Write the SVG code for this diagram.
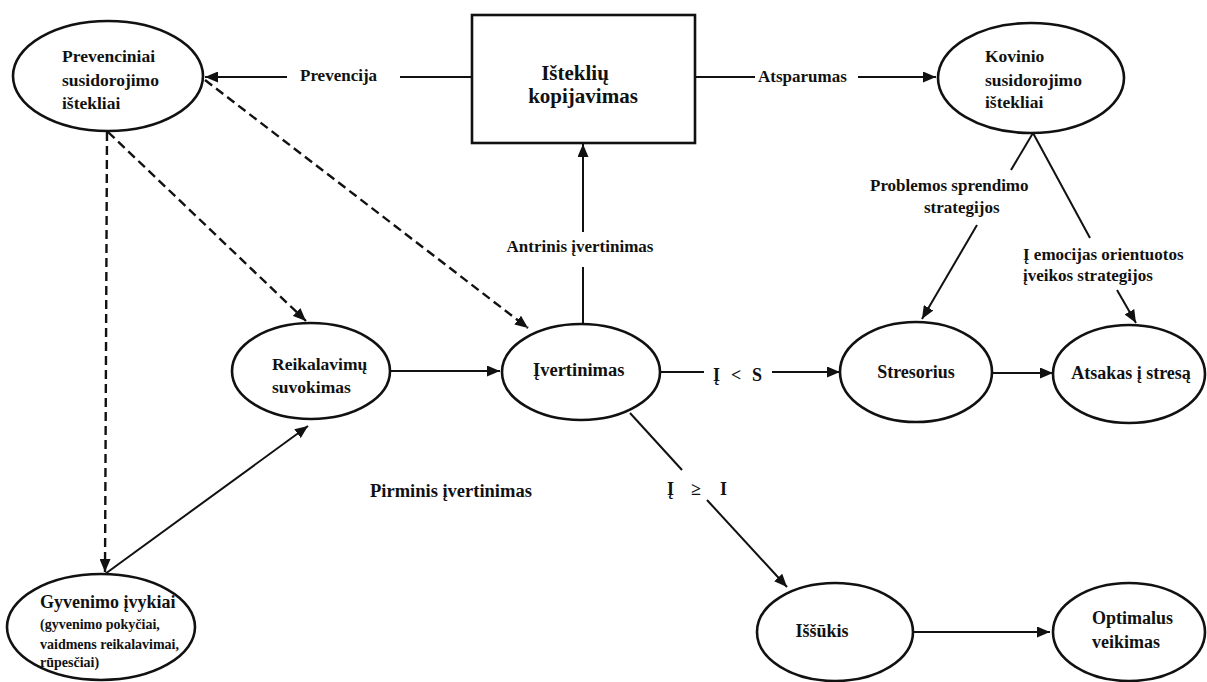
<svg xmlns="http://www.w3.org/2000/svg" width="1207" height="682" viewBox="0 0 1207 682">
<style>
  .node { fill: #fff; stroke: #111; stroke-width: 2.6; }
  .t { font-family: "Liberation Serif", "Times New Roman", Tinos, "DejaVu Serif", serif; font-weight: 700; font-size: 17px; fill: #111; }
  .big { font-size: 21px; }
  .sm { font-size: 14px; }
  .ln { stroke: #111; stroke-width: 2; fill: none; }
  .dash { stroke-dasharray: 9 5; stroke-width: 2.4; }
  .arr { marker-end: url(#ah); }
</style>
<defs>
  <marker id="ah" markerUnits="userSpaceOnUse" markerWidth="13" markerHeight="11" refX="13" refY="5.5" orient="auto">
    <path d="M0,0 L13,5.5 L0,11 z" fill="#111"/>
  </marker>
</defs>
<rect width="1207" height="682" fill="#fff"/>

<g id="connectors">
  <line class="ln" x1="472" y1="77" x2="400" y2="77"/>
  <line class="ln arr" x1="287" y1="77" x2="205" y2="77"/>
  <line class="ln" x1="695" y1="77" x2="755" y2="77"/>
  <line class="ln arr" x1="858" y1="77" x2="936" y2="77"/>
  <line class="ln" x1="583" y1="325" x2="583" y2="267"/>
  <line class="ln arr" x1="583" y1="232" x2="583" y2="144"/>
  <line class="ln" x1="1033" y1="133" x2="1011" y2="170"/>
  <line class="ln arr" x1="977" y1="225" x2="922" y2="319"/>
  <line class="ln" x1="1033" y1="133" x2="1090" y2="238"/>
  <line class="ln arr" x1="1117" y1="290" x2="1136" y2="323"/>
  <line class="ln" x1="660" y1="372" x2="704" y2="372"/>
  <line class="ln arr" x1="772" y1="372" x2="840" y2="372"/>
  <line class="ln arr" x1="992" y1="373" x2="1053" y2="373"/>
  <line class="ln arr" x1="390" y1="371" x2="500" y2="371"/>
  <line class="ln dash arr" x1="205" y1="80" x2="528" y2="328"/>
  <line class="ln dash arr" x1="108" y1="132" x2="306" y2="321"/>
  <line class="ln dash arr" x1="107" y1="132" x2="105" y2="572"/>
  <line class="ln arr" x1="105" y1="574" x2="308" y2="426"/>
  <line class="ln" x1="630" y1="413" x2="682" y2="470"/>
  <line class="ln arr" x1="707" y1="500" x2="787" y2="587"/>
  <line class="ln arr" x1="913" y1="632" x2="1050" y2="632"/>

  <text class="t" x="300" y="81">Prevencija</text>
  <text class="t" x="758" y="82">Atsparumas</text>
  <text class="t" x="580" y="252" text-anchor="middle">Antrinis įvertinimas</text>
  <text class="t" x="870" y="191">Problemos sprendimo</text>
  <text class="t" x="924" y="213">strategijos</text>
  <text class="t" x="1023" y="260">Į emocijas orientuotos</text>
  <text class="t" x="1023" y="281">įveikos strategijos</text>
  <text class="t" y="381" style="font-size:18px"><tspan x="713">Į</tspan><tspan x="731">&lt;</tspan><tspan x="752">S</tspan></text>
  <text class="t" y="495" style="font-size:18px"><tspan x="667">Į</tspan><tspan x="691">≥</tspan><tspan x="720">I</tspan></text>
  <text class="t" x="370" y="497" style="font-size:18.5px">Pirminis įvertinimas</text>
</g>

<g id="prevenciniai">
  <ellipse class="node" cx="108" cy="76" rx="95" ry="55"/>
  <text class="t" x="62" y="62" style="font-size:17.5px">Prevenciniai</text>
  <text class="t" x="62" y="86" style="font-size:17.5px">susidorojimo</text>
  <text class="t" x="62" y="109" style="font-size:17.5px">ištekliai</text>
</g>

<g id="istekliu">
  <rect class="node" x="472" y="15" width="223" height="128"/>
  <text class="t big" x="575" y="80" text-anchor="middle">Išteklių</text>
  <text class="t big" x="583" y="103" text-anchor="middle">kopijavimas</text>
</g>

<g id="kovinio">
  <ellipse class="node" cx="1031" cy="78" rx="93" ry="55"/>
  <text class="t" x="985" y="62" style="font-size:17.5px">Kovinio</text>
  <text class="t" x="985" y="86" style="font-size:17.5px">susidorojimo</text>
  <text class="t" x="985" y="108" style="font-size:17.5px">ištekliai</text>
</g>

<g id="reikalavimu">
  <ellipse class="node" cx="311" cy="371" rx="79" ry="48"/>
  <text class="t" x="272" y="370" style="font-size:17.5px">Reikalavimų</text>
  <text class="t" x="272" y="393" style="font-size:17.5px">suvokimas</text>
</g>

<g id="ivertinimas">
  <ellipse class="node" cx="581" cy="372" rx="79" ry="48"/>
  <text class="t" x="533" y="376" style="font-size:18.5px">Įvertinimas</text>
</g>

<g id="stresorius">
  <ellipse class="node" cx="916" cy="372" rx="76" ry="50"/>
  <text class="t" x="916" y="378" text-anchor="middle" style="font-size:18px">Stresorius</text>
</g>

<g id="atsakas">
  <ellipse class="node" cx="1129" cy="374" rx="76" ry="49"/>
  <text class="t" x="1131" y="379" text-anchor="middle" style="font-size:18px">Atsakas į stresą</text>
</g>

<g id="gyvenimo">
  <ellipse class="node" cx="101" cy="627" rx="94" ry="53"/>
  <text class="t" x="40" y="608" style="font-size:18px">Gyvenimo įvykiai</text>
  <text class="t sm" x="40" y="629">(gyvenimo pokyčiai,</text>
  <text class="t sm" x="40" y="649">vaidmens reikalavimai,</text>
  <text class="t sm" x="40" y="667">rūpesčiai)</text>
</g>

<g id="issukis">
  <ellipse class="node" cx="835" cy="632" rx="78" ry="49"/>
  <text class="t" x="822" y="637" text-anchor="middle" style="font-size:18px">Iššūkis</text>
</g>

<g id="optimalus">
  <ellipse class="node" cx="1129" cy="632" rx="76" ry="49"/>
  <text class="t" x="1092" y="624" style="font-size:18px">Optimalus</text>
  <text class="t" x="1092" y="648" style="font-size:18px">veikimas</text>
</g>
</svg>
